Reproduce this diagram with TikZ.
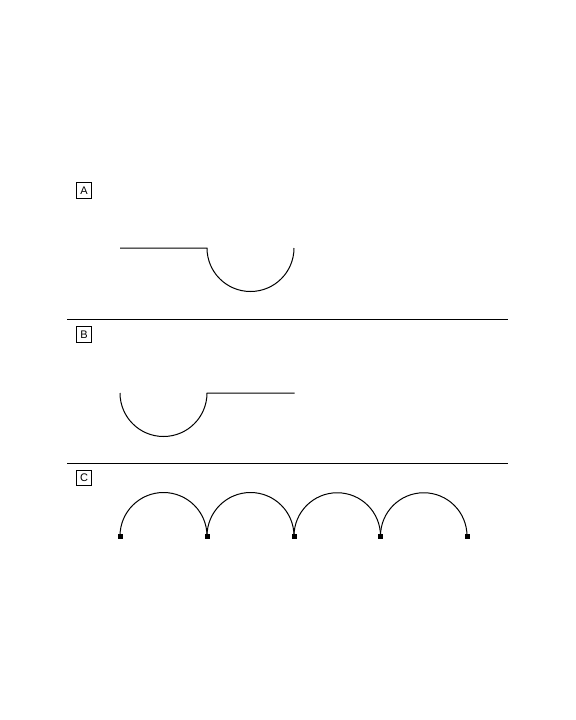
\documentclass[tikz,border=0pt]{standalone}
\usepackage{fontspec}
\setmainfont{Liberation Sans}
\begin{document}
\begin{tikzpicture}[x=1bp,y=-1bp,line width=1bp,
  lbl/.style={draw,line width=0.8bp,minimum width=15.5bp,minimum height=15.5bp,inner sep=0pt,font=\fontsize{11bp}{12bp}\selectfont},
  sep/.style={line width=1bp},
  endpt/.style={fill=black,inner sep=0pt,minimum size=5bp}]
\useasboundingbox (0,0) rectangle (576,720);
% labels
\node[lbl] (la) at (84,190.5) {A};
\node[lbl] (lb) at (84,334.5) {B};
\node[lbl] (lc) at (84,478) {C};
% separators
\coordinate (s1a) at (67,319.5);
\coordinate (s1b) at (508,319.5);
\coordinate (s2a) at (67,463.5);
\coordinate (s2b) at (508,463.5);
\draw[sep] (s1a) -- (s1b);
\draw[sep] (s2a) -- (s2b);
% A
\coordinate (a0) at (120,248);
\coordinate (a1) at (207,248);
\draw (a0) -- (a1) arc[start angle=180,end angle=0,radius=43.5];
% B
\coordinate (b0) at (120,393);
\coordinate (b1) at (207,393);
\coordinate (b2) at (294.5,393);
\draw (b0) arc[start angle=180,end angle=0,radius=43.5] -- (b2);
% C
\foreach \i/\x in {0/120,1/207,2/294,3/380.5,4/467}{
  \node[endpt] (c\i) at (\x,536) {};
}
\draw (c0.center) arc[start angle=180,end angle=360,radius=43.5];
\draw (c1.center) arc[start angle=180,end angle=360,radius=43.5];
\draw (c2.center) arc[start angle=180,end angle=360,radius=43.25];
\draw (c3.center) arc[start angle=180,end angle=360,radius=43.25];
\end{tikzpicture}
\end{document}
